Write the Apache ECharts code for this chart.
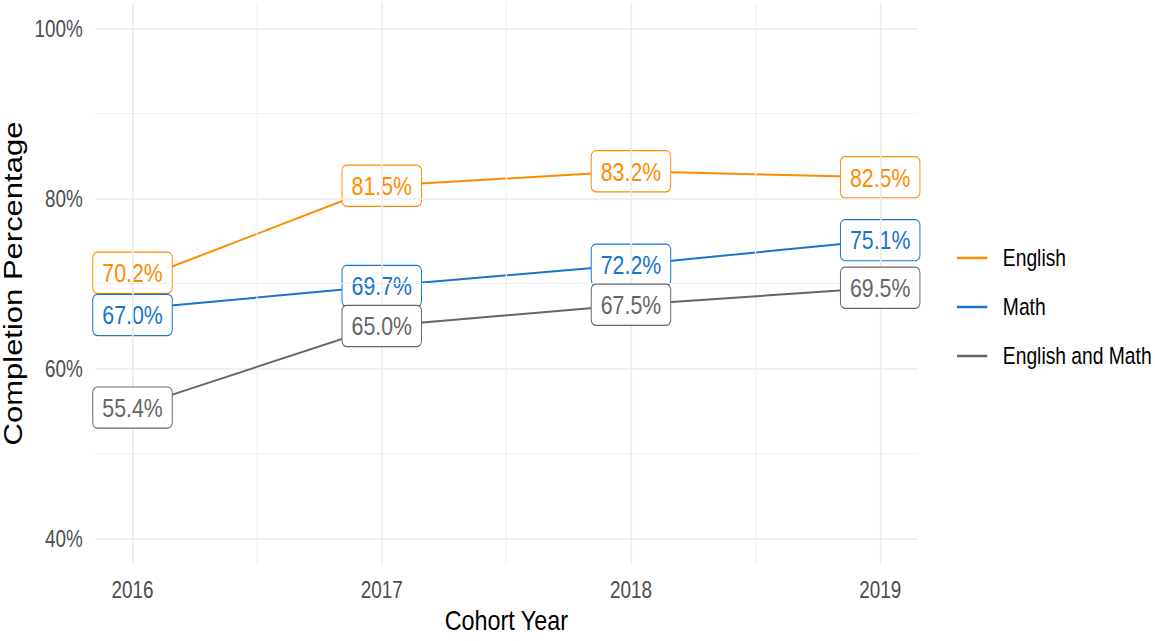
<!DOCTYPE html>
<html>
<head>
<meta charset="utf-8">
<script src="https://cdn.jsdelivr.net/npm/echarts@6/dist/echarts.min.js"></script>
<style>
html,body{margin:0;padding:0;background:#fff;overflow:hidden;width:1155px;height:641px;}
#chart{width:1409px;height:641px;transform:scaleX(0.82);transform-origin:0 0;}
</style>
</head>
<body>
<div id="chart"></div>
<script>
const years = [2016, 2017, 2018, 2019];
const english = [70.2, 81.5, 83.2, 82.5];
const math = [67.0, 69.7, 72.2, 75.1];
const englishAndMath = [55.4, 65.0, 67.5, 69.5];
const seriesNames = ['English', 'Math', 'English and Math'];
const yTicks = [40, 60, 80, 100];
const yMinorTicks = [50, 70, 90];
const xMinorTicks = [2016.5, 2017.5, 2018.5];

const colors = ['#FF8C00', '#1874CD', '#666666'];
const font = "'Liberation Sans', Arial, Helvetica, sans-serif";

const chart = echarts.init(document.getElementById('chart'), null, { renderer: 'svg' });

function makeSeries(name, values, color, idx) {
  return {
    name: name,
    type: 'line',
    z: 3 + idx,
    data: years.map((y, i) => [y, values[i]]),
    symbol: 'circle',
    symbolSize: 1,
    showSymbol: true,
    itemStyle: { color: color },
    lineStyle: { color: color, width: 2 },
    emphasis: { disabled: true },
    animation: false,
    label: {
      show: true,
      position: 'inside',
      formatter: p => p.value[1].toFixed(1) + '%',
      color: color,
      fontFamily: font,
      fontSize: 26,
      lineHeight: 26,
      backgroundColor: '#fff',
      borderColor: color,
      borderWidth: 1.2,
      borderRadius: 5,
      padding: [7, 11, 7, 11]
    }
  };
}

const seriesList = [
  makeSeries(seriesNames[0], english, colors[0], 0),
  makeSeries(seriesNames[1], math, colors[1], 1),
  makeSeries(seriesNames[2], englishAndMath, colors[2], 2)
];
// small repel for the two overlapping 2016 labels
seriesList[0].labelLayout = p => (p.dataIndex === 0 ? { dy: -9 } : {});
seriesList[1].labelLayout = p => (p.dataIndex === 0 ? { dy: 6 } : {});

const gridSeries = {
  type: 'line',
  data: [],
  z: 1,
  silent: true,
  animation: false,
  markLine: {
    silent: true,
    symbol: 'none',
    animation: false,
    label: { show: false },
    data: [
      ...yTicks.map(v => ({ yAxis: v, lineStyle: { color: '#EBEBEB', width: 1.6, type: 'solid' } })),
      ...yMinorTicks.map(v => ({ yAxis: v, lineStyle: { color: '#F1F1F1', width: 1.2, type: 'solid' } })),
      ...years.map(v => ({ xAxis: v, lineStyle: { color: '#EBEBEB', width: 1.9, type: 'solid' } })),
      ...xMinorTicks.map(v => ({ xAxis: v, lineStyle: { color: '#F1F1F1', width: 1.4, type: 'solid' } }))
    ]
  }
};

chart.setOption({
  backgroundColor: '#fff',
  animation: false,
  grid: { left: 116, right: 290, top: 3, bottom: 77, containLabel: false, outerBoundsMode: 'none' },
  xAxis: {
    type: 'value',
    min: 2015.85,
    max: 2019.15,
    name: 'Cohort Year',
    nameLocation: 'middle',
    nameGap: 41,
    nameTextStyle: { fontFamily: font, fontSize: 28.5, color: '#000' },
    axisLine: { show: false },
    axisTick: { show: false },
    splitLine: { show: false },
    axisLabel: {
      margin: 14,
      fontFamily: font,
      fontSize: 23,
      color: '#4D4D4D',
      formatter: v => (years.indexOf(v) >= 0 ? String(v) : '')
    }
  },
  yAxis: {
    type: 'value',
    min: 37,
    max: 103,
    name: 'Completion Percentage',
    nameLocation: 'middle',
    nameRotate: 90,
    nameGap: 80,
    nameTextStyle: { fontFamily: font, fontSize: 31, color: '#000' },
    axisLine: { show: false },
    axisTick: { show: false },
    splitLine: { show: false },
    axisLabel: {
      margin: 15,
      fontFamily: font,
      fontSize: 23,
      color: '#4D4D4D',
      formatter: v => (yTicks.indexOf(v) >= 0 ? v + '%' : '')
    }
  },
  legend: {
    orient: 'vertical',
    left: 1167,
    top: 246,
    padding: 0,
    itemWidth: 37,
    itemHeight: 2.5,
    itemGap: 25,
    icon: 'rect',
    data: seriesNames.map((n, i) => ({ name: n, itemStyle: { color: colors[i] } })),
    textStyle: { fontFamily: font, fontSize: 23.5, lineHeight: 24, color: '#000', padding: [0, 0, 0, 14] }
  },
  series: [gridSeries, ...seriesList]
});
</script>
</body>
</html>
